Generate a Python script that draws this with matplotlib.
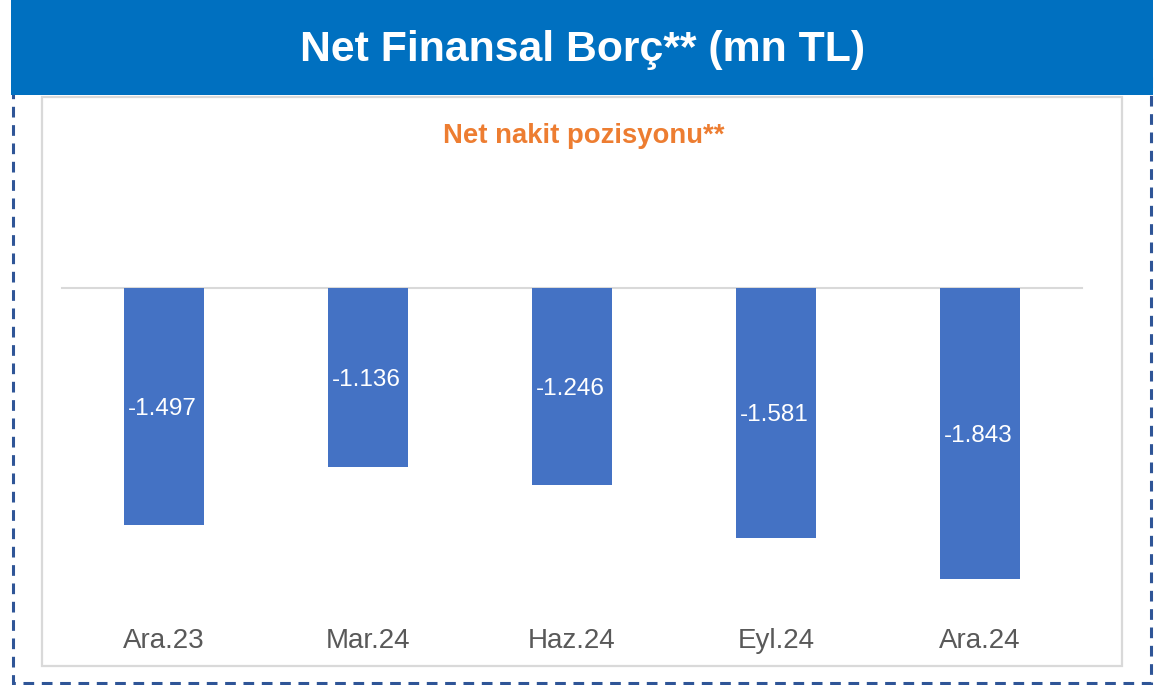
#!/usr/bin/env python3
# -*- coding: utf-8 -*-
"""Net financial debt bar chart (mn TL)"""

import matplotlib
matplotlib.use("Agg")
import matplotlib.pyplot as plt
from matplotlib.patches import Rectangle
from matplotlib.transforms import blended_transform_factory

plt.rcParams['font.family'] = ['Liberation Sans', 'DejaVu Sans']

periods = ['Ara.23', 'Mar.24', 'Haz.24', 'Eyl.24', 'Ara.24']
net_cash = [-1497, -1136, -1246, -1581, -1843]

title = 'Net Finansal Borç** (mn TL)'
subtitle = 'Net nakit pozisyonu**'

W, H = 1160, 685
fig = plt.figure(figsize=(W / 100, H / 100), dpi=100)

# background layer in pixel coordinates (y downwards)
bg = fig.add_axes([0, 0, 1, 1])
bg.set_xlim(0, W)
bg.set_ylim(H, 0)
bg.axis('off')
bg.add_patch(Rectangle((13, 60), 1138, 623, fill=False, ec='#2F5597',
                       lw=2.2, ls=(0, (3.5, 2.5))))
bg.add_patch(Rectangle((11, 0), 1142, 95, fc='#0070C0', ec='none', zorder=2))
bg.add_patch(Rectangle((42, 97), 1080, 569, fill=False, ec='#D9D9D9',
                       lw=1.6, zorder=2))
bg.text(583, 50, title, color='white', fontsize=30.8, fontweight='bold',
        ha='center', va='center', zorder=3)
bg.text(584, 136, subtitle, color='#ED7D31', fontsize=19.8,
        fontweight='bold', ha='center', va='center', zorder=3)

# chart area: zero line at y=288px, 158 px per thousand
top_px, bot_px = 288, 600
ax = fig.add_axes([62 / W, 1 - bot_px / H, 1020 / W, (bot_px - top_px) / H])
ax.set_xlim(-0.5, len(periods) - 0.5)
ax.set_ylim(-(bot_px - top_px) / 158 * 1000, 0)
ax.axis('off')

x = range(len(periods))
ax.bar(x, net_cash, width=0.39, color='#4472C4', zorder=2)
ax.axhline(0, color='#D9D9D9', lw=1.5, zorder=1, clip_on=False)

for xi, v in zip(x, net_cash):
    label = '{:,}'.format(v).replace(',', '.')
    ax.text(xi - 0.01, v / 2, label, color='white', fontsize=17.5,
            ha='center', va='center_baseline', zorder=3)

trans = blended_transform_factory(ax.transData, fig.transFigure)
for xi, p in zip(x, periods):
    ax.text(xi, 1 - 638 / H, p, color='#595959', fontsize=20,
            ha='center', va='center_baseline', transform=trans)

fig.savefig('out.png', dpi=100)
